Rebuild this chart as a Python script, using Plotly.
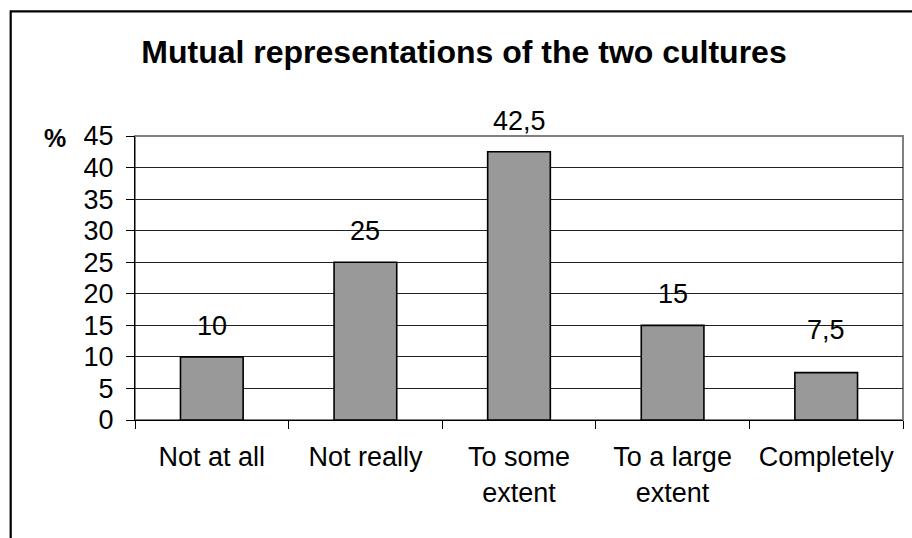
import plotly.graph_objects as go

categories = ["Not at all", "Not really", "To some<br>extent", "To a large<br>extent", "Completely"]
values = [10, 25, 42.5, 15, 7.5]
labels = ["10", "25", "42,5", "15", "7,5"]
y_ticks = [0, 5, 10, 15, 20, 25, 30, 35, 40, 45]

FONT = "Liberation Sans, Arial, sans-serif"
W, H = 912, 538
L, R, T, B = 135, 9, 136, 118
pw, ph = W - L - R, H - T - B

def px_x(p):
    return (p - L) / pw

def px_y(p):
    return (H - B - p) / ph

# label offsets above bar tops (pixels), as placed in the original chart
label_shift = [14, 14, 14, 14, 26]

fig = go.Figure()
fig.add_trace(go.Bar(
    x=categories, y=values,
    marker=dict(color="#999999", line=dict(color="#000000", width=1.6)),
    hoverinfo="skip",
))

for c, v, t, s in zip(categories, values, labels, label_shift):
    fig.add_annotation(x=c, y=v, text=t, showarrow=False, yanchor="bottom",
                       yshift=s, font=dict(family=FONT, size=27, color="#000"))

fig.add_annotation(xref="paper", yref="paper", x=px_x(55), y=px_y(138), text="<b>%</b>",
                   showarrow=False, xanchor="center", yanchor="middle",
                   font=dict(family=FONT, size=25, color="#000"))

# plot area border (gray top/right)
fig.add_shape(type="rect", xref="paper", yref="paper", x0=0, x1=1, y0=0, y1=1,
              line=dict(color="#808080", width=2), layer="below")
# outer chart border (partially outside the page)
fig.add_shape(type="rect", xref="paper", yref="paper",
              x0=px_x(10.7), x1=px_x(1000), y0=px_y(700), y1=px_y(11.3),
              line=dict(color="#000000", width=2.2))

fig.update_layout(
    width=W, height=H,
    margin=dict(l=L, r=R, t=T, b=B, pad=0),
    paper_bgcolor="white", plot_bgcolor="white",
    bargap=0.592,
    showlegend=False,
    title=dict(text="<b>Mutual representations of the two cultures</b>",
               x=464 / W, xanchor="center",
               y=1 - 52 / H, yanchor="middle", yref="container",
               font=dict(family=FONT, size=32, color="#000")),
    font=dict(family=FONT, color="#000"),
)
fig.update_xaxes(
    type="category", tickson="boundaries", ticks="outside", ticklen=8,
    tickcolor="#000", tickwidth=1, showline=True, linecolor="#000", linewidth=1,
    showgrid=False, tickfont=dict(family=FONT, size=27, color="#000"),
    ticklabelstandoff=13,
    fixedrange=True,
)
fig.update_yaxes(
    range=[0, 45], tickvals=y_ticks, ticktext=[str(v) for v in y_ticks],
    ticks="outside", ticklen=8, tickcolor="#000", tickwidth=1,
    showline=True, linecolor="#000", linewidth=1,
    showgrid=True, gridcolor="#222222", gridwidth=1, zeroline=False,
    tickfont=dict(family=FONT, size=27, color="#000"),
    ticklabelstandoff=7,
    fixedrange=True,
)

fig.write_html("out.html")
